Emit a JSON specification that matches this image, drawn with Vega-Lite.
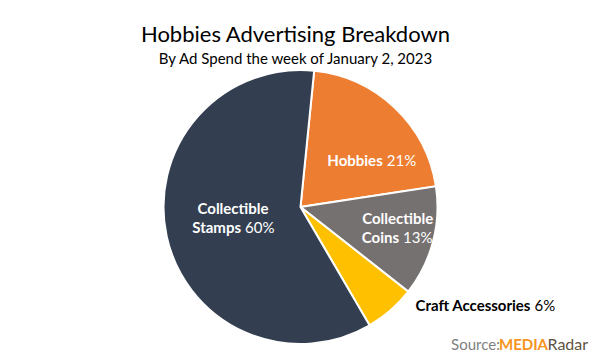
{
  "$schema": "https://vega.github.io/schema/vega-lite/v6.json",
  "background": "#ffffff",
  "padding": {"left": 140.5, "top": 23, "right": 0, "bottom": 0},
  "spacing": 14,
  "bounds": "flush",
  "config": {"view": {"stroke": null}},
  "datasets": {
    "pie": [
      {"cat": "Hobbies", "value": 21, "line1": "", "name": "Hobbies", "pct": "21%"},
      {"cat": "Collectible Coins", "value": 13, "line1": "Collectible", "name": "Coins", "pct": "13%"},
      {"cat": "Craft Accessories", "value": 6, "line1": "", "name": "Craft Accessories", "pct": "6%"},
      {"cat": "Collectible Stamps", "value": 60, "line1": "Collectible", "name": "Stamps", "pct": "60%"}
    ],
    "source": [{"part": "Source:"}, {"part": "MEDIA"}, {"part": "Radar"}]
  },
  "hconcat": [
    {
      "width": 274,
      "height": 274,
      "title": {
        "text": "Hobbies Advertising Breakdown",
        "subtitle": "By Ad Spend the week of January 2, 2023",
        "anchor": "middle",
        "dx": -5,
        "font": "Lato",
        "fontSize": 22,
        "fontWeight": "normal",
        "color": "#000000",
        "subtitleFont": "Lato",
        "subtitleFontSize": 15,
        "subtitleColor": "#000000",
        "subtitlePadding": 5,
        "offset": -1.5
      },
      "data": {"name": "pie"},
      "encoding": {
        "theta": {"field": "value", "type": "quantitative", "stack": true, "scale": {"range": [2.6133, 8.8965]}},
        "order": {"field": "value", "type": "quantitative", "sort": "descending"}
      },
      "layer": [
        {
          "mark": {"type": "arc", "stroke": "#ffffff", "strokeWidth": 2},
          "encoding": {
            "color": {
              "field": "cat", "type": "nominal", "legend": null,
              "scale": {"domain": ["Hobbies", "Collectible Coins", "Craft Accessories", "Collectible Stamps"],
                        "range": ["#ED7D31", "#767171", "#FFC000", "#333F50"]}
            }
          }
        },
        {
          "mark": {"type": "text", "radius": 86, "align": "right", "baseline": "alphabetic", "dx": 23, "dy": 21, "font": "Lato", "fontSize": 15, "fontWeight": "bold", "color": "#ffffff"},
          "encoding": {"text": {"field": "name", "type": "nominal", "condition": {"test": "datum.cat !== 'Hobbies'", "value": ""}}}
        },
        {
          "mark": {"type": "text", "radius": 86, "align": "left", "baseline": "alphabetic", "dx": 27, "dy": 21, "font": "Lato", "fontSize": 15, "color": "#ffffff"},
          "encoding": {"text": {"field": "pct", "type": "nominal", "condition": {"test": "datum.cat !== 'Hobbies'", "value": ""}}}
        },
        {
          "mark": {"type": "text", "radius": 100, "align": "center", "baseline": "alphabetic", "dx": 0.5, "dy": -8.4, "font": "Lato", "fontSize": 15, "fontWeight": "bold", "color": "#ffffff"},
          "encoding": {"text": {"field": "line1", "type": "nominal", "condition": {"test": "datum.cat !== 'Collectible Coins'", "value": ""}}}
        },
        {
          "mark": {"type": "text", "radius": 100, "align": "right", "baseline": "alphabetic", "dx": 1.8, "dy": 10.6, "font": "Lato", "fontSize": 15, "fontWeight": "bold", "color": "#ffffff"},
          "encoding": {"text": {"field": "name", "type": "nominal", "condition": {"test": "datum.cat !== 'Collectible Coins'", "value": ""}}}
        },
        {
          "mark": {"type": "text", "radius": 100, "align": "left", "baseline": "alphabetic", "dx": 5.8, "dy": 10.6, "font": "Lato", "fontSize": 15, "color": "#ffffff"},
          "encoding": {"text": {"field": "pct", "type": "nominal", "condition": {"test": "datum.cat !== 'Collectible Coins'", "value": ""}}}
        },
        {
          "mark": {"type": "text", "radius": 70, "align": "center", "baseline": "alphabetic", "dx": 0.9, "dy": -7.9, "font": "Lato", "fontSize": 15, "fontWeight": "bold", "color": "#ffffff"},
          "encoding": {"text": {"field": "line1", "type": "nominal", "condition": {"test": "datum.cat !== 'Collectible Stamps'", "value": ""}}}
        },
        {
          "mark": {"type": "text", "radius": 70, "align": "right", "baseline": "alphabetic", "dx": 8.9, "dy": 11.6, "font": "Lato", "fontSize": 15, "fontWeight": "bold", "color": "#ffffff"},
          "encoding": {"text": {"field": "name", "type": "nominal", "condition": {"test": "datum.cat !== 'Collectible Stamps'", "value": ""}}}
        },
        {
          "mark": {"type": "text", "radius": 70, "align": "left", "baseline": "alphabetic", "dx": 12.9, "dy": 11.6, "font": "Lato", "fontSize": 15, "color": "#ffffff"},
          "encoding": {"text": {"field": "pct", "type": "nominal", "condition": {"test": "datum.cat !== 'Collectible Stamps'", "value": ""}}}
        },
        {
          "mark": {"type": "text", "radius": 145, "align": "right", "baseline": "alphabetic", "dx": 134.7, "dy": -5.3, "font": "Lato", "fontSize": 15, "fontWeight": "bold", "color": "#000000"},
          "encoding": {"text": {"field": "name", "type": "nominal", "condition": {"test": "datum.cat !== 'Craft Accessories'", "value": ""}}}
        },
        {
          "mark": {"type": "text", "radius": 145, "align": "left", "baseline": "alphabetic", "dx": 138.7, "dy": -5.3, "font": "Lato", "fontSize": 15, "color": "#000000"},
          "encoding": {"text": {"field": "pct", "type": "nominal", "condition": {"test": "datum.cat !== 'Craft Accessories'", "value": ""}}}
        }
      ]
    },
    {
      "width": 144,
      "height": 274,
      "data": {"name": "source"},
      "encoding": {"x": {"field": "part", "type": "nominal", "sort": null, "axis": null}},
      "layer": [
        {
          "mark": {"type": "text", "font": "Lato", "fontSize": 15, "baseline": "alphabetic", "dy": 143, "color": "#7F7F7F"},
          "encoding": {
            "text": {"field": "part", "type": "nominal", "condition": {"test": "datum.part !== 'Source:'", "value": ""}}
          }
        },
        {
          "mark": {"type": "text", "font": "Lato", "fontSize": 15, "fontWeight": "bold", "baseline": "alphabetic", "dy": 143, "color": "#F7941D"},
          "encoding": {"text": {"field": "part", "type": "nominal", "condition": {"test": "datum.part !== 'MEDIA'", "value": ""}}}
        },
        {
          "mark": {"type": "text", "font": "Lato", "fontSize": 16, "align": "left", "dx": -24, "baseline": "alphabetic", "dy": 143, "color": "#5E5340"},
          "encoding": {"text": {"field": "part", "type": "nominal", "condition": {"test": "datum.part !== 'Radar'", "value": ""}}}
        }
      ]
    }
  ]
}
